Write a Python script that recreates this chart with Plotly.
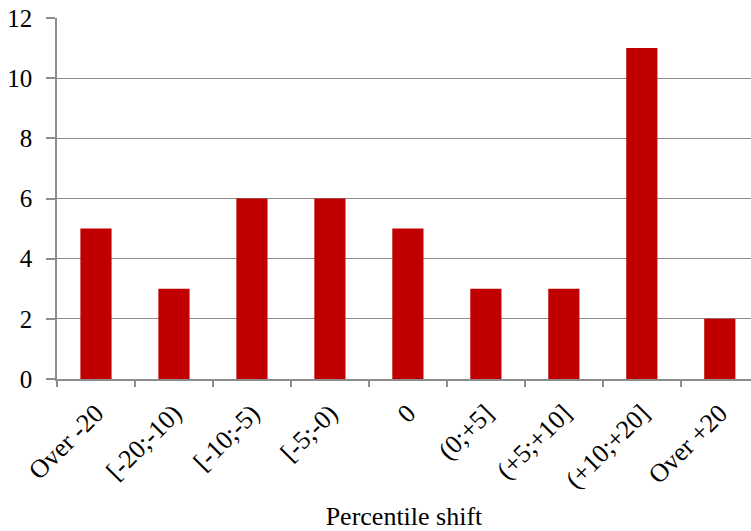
import plotly.graph_objects as go

categories = ["Over -20", "[-20;-10)", "[-10;-5)", "[-5;-0)", "0", "(0;+5]", "(+5;+10]", "(+10;+20]", "Over +20"]
values = [5, 3, 6, 6, 5, 3, 3, 11, 2]
y_ticks = [0, 2, 4, 6, 8, 10, 12]
x_title = "Percentile shift"

FONT = "Liberation Serif"

fig = go.Figure(go.Bar(x=categories, y=values, marker=dict(color="#C00000", line=dict(width=0)), width=0.4))

fig.update_layout(
    width=751, height=531,
    margin=dict(l=57, r=0, t=18, b=152, autoexpand=False),
    paper_bgcolor="white", plot_bgcolor="white",
    font=dict(family=FONT, size=24, color="black"),
    showlegend=False,
)
fig.update_xaxes(
    type="category", range=[-0.5, 8.4], automargin=False,
    tickangle=-45, tickson="boundaries", ticks="outside", ticklen=6, tickcolor="#8c8c8c", tickwidth=1.5,
    showline=True, linecolor="#8c8c8c", linewidth=1.5, showgrid=False,
    tickfont=dict(family=FONT, size=26, color="black"), ticklabelstandoff=7,
    title=dict(text=x_title, font=dict(family=FONT, size=26, color="black"), standoff=19),
)
fig.update_yaxes(
    range=[0, 12], tickvals=y_ticks, ticks="outside", ticklen=9, tickcolor="#8c8c8c", tickwidth=1.5,
    showline=True, linecolor="#8c8c8c", linewidth=1.5, automargin=False,
    showgrid=True, gridcolor="#8c8c8c", gridwidth=1, zeroline=False,
    tickfont=dict(family=FONT, size=25, color="black"), ticklabelstandoff=9,
)
fig.write_html("out.html", config={"displayModeBar": False}, post_script="document.body.style.margin='0';")
